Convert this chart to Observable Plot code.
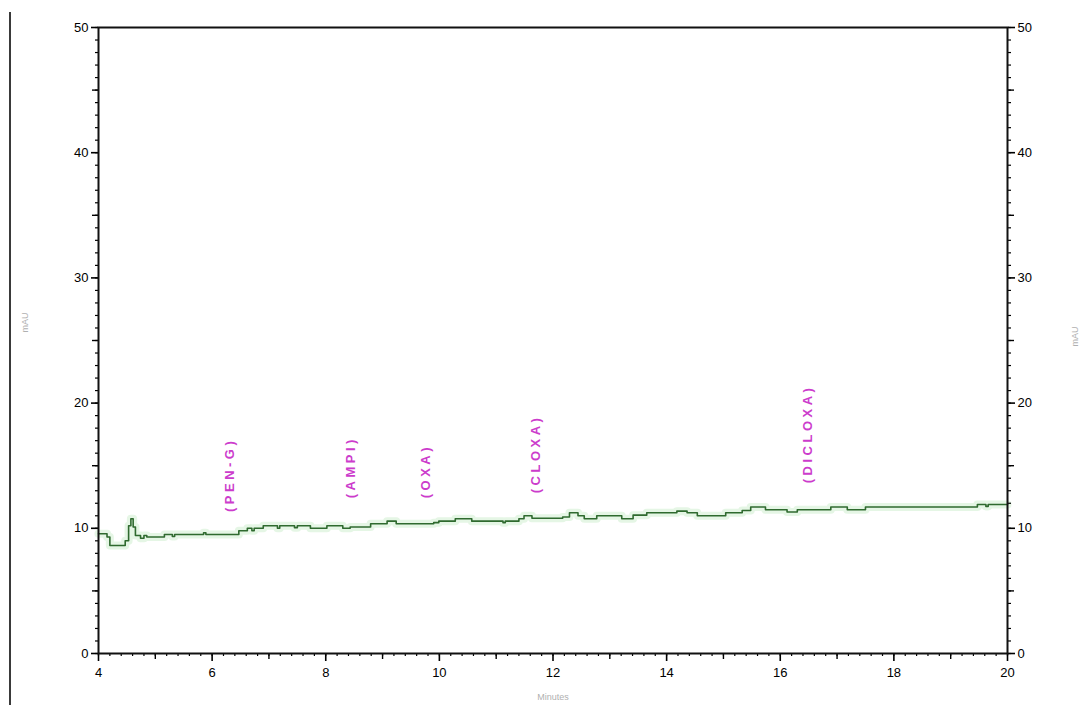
<!DOCTYPE html>
<html>
<head>
<meta charset="utf-8">
<script src="https://cdn.jsdelivr.net/npm/d3@7"></script>
<script src="https://cdn.jsdelivr.net/npm/@observablehq/plot@0.6"></script>
<style>
  html, body { margin: 0; padding: 0; background: #fff; }
  #wrap { position: relative; width: 1083px; height: 705px; overflow: hidden; }
  #edge { position: absolute; left: 9px; top: 12px; width: 2px; height: 693px; background: #3a3a3a; }
</style>
</head>
<body>
<div id="wrap"><div id="edge"></div></div>
<script>
// Chromatogram trace (minutes, mAU), step-wise detector signal
const minutes = [4.00, 4.15, 4.20, 4.47, 4.53, 4.57, 4.61, 4.65, 4.74, 4.80, 4.85, 5.16, 5.30, 5.34, 5.85, 5.89,
  6.47, 6.62, 6.70, 6.74, 6.90, 7.15, 7.19, 7.45, 7.50, 7.73, 8.02, 8.30, 8.43, 8.79, 9.08, 9.24, 9.90, 9.99,
  10.28, 10.57, 11.12, 11.16, 11.40, 11.49, 11.63, 12.17, 12.29, 12.44, 12.55, 12.77, 13.21, 13.41, 13.65,
  14.18, 14.36, 14.54, 15.04, 15.33, 15.48, 15.74, 16.12, 16.30, 16.89, 17.18, 17.50, 19.47, 19.62, 19.66, 20.00];
const mAU = [9.56, 9.3, 8.63, 9.0, 10.2, 10.76, 10.1, 9.42, 9.2, 9.42, 9.3, 9.5, 9.35, 9.5, 9.65, 9.5,
  9.8, 10.0, 9.8, 10.0, 10.2, 10.0, 10.2, 10.05, 10.2, 10.0, 10.2, 10.0, 10.1, 10.36, 10.57, 10.36, 10.45, 10.57,
  10.76, 10.57, 10.45, 10.57, 10.76, 11.0, 10.8, 10.9, 11.24, 11.0, 10.76, 11.0, 10.76, 11.05, 11.24,
  11.37, 11.24, 11.0, 11.24, 11.42, 11.7, 11.48, 11.3, 11.48, 11.7, 11.48, 11.7, 11.9, 11.75, 11.9, 11.9];

// Peak annotations
const peakNames = ["(PEN-G)", "(AMPI)", "(OXA)", "(CLOXA)", "(DICLOXA)"];
const peakTimes = [6.32, 8.44, 9.76, 11.69, 16.48];
const peakLabelBase = [11.3, 12.4, 12.4, 12.8, 13.6];

// Axis ticks and titles
const xMajor = [4, 6, 8, 10, 12, 14, 16, 18, 20];
const xMid = [5, 7, 9, 11, 13, 15, 17, 19];
const xMinor = d3.range(0, 81).map(i => 4 + i * 0.2);
const yMajor = [0, 10, 20, 30, 40, 50];
const yMid = [5, 15, 25, 35, 45];
const yMinor = d3.range(0, 51);
const xTitle = "Minutes";
const yTitle = "mAU";

const trace = minutes.map((t, i) => ({t, v: mAU[i]}));
const peaks = peakNames.map((name, i) => ({name, t: peakTimes[i], v: peakLabelBase[i]}));

const labelColor = "#cc3ccc";
const none = () => "";

const chart = Plot.plot({
  width: 1083,
  height: 705,
  marginLeft: 98,
  marginRight: 76,
  marginTop: 27,
  marginBottom: 52,
  style: {fontFamily: "'Liberation Sans', Arial, sans-serif", fontSize: "13px", background: "transparent", color: "#000"},
  x: {domain: [4, 20], axis: null},
  y: {domain: [0, 50], axis: null},
  marks: [
    Plot.line(trace, {x: "t", y: "v", curve: "step-after", stroke: "#a8e0a8", strokeWidth: 8, strokeOpacity: 0.3}),
    Plot.line(trace, {x: "t", y: "v", curve: "step-after", stroke: "#2f6a2f", strokeWidth: 1.6}),
    Plot.text(peaks, {x: "t", y: "v", text: "name", rotate: -90, textAnchor: "start", fill: labelColor,
      fontWeight: "bold", fontSize: 13, fontFamily: "'Liberation Sans', Arial, sans-serif"}),
    // bottom axis
    Plot.axisX({ticks: xMinor, tickSize: 3, tickFormat: none, label: null, strokeWidth: 1.2}),
    Plot.axisX({ticks: xMid, tickSize: 6, tickFormat: none, label: null, strokeWidth: 1.4}),
    Plot.axisX({ticks: xMajor, tickSize: 8, tickPadding: 6, label: null, strokeWidth: 1.6}),
    // left axis
    Plot.axisY({anchor: "left", ticks: yMinor, tickSize: 3, tickFormat: none, label: null, strokeWidth: 1.2}),
    Plot.axisY({anchor: "left", ticks: yMid, tickSize: 6, tickFormat: none, label: null, strokeWidth: 1.4}),
    Plot.axisY({anchor: "left", ticks: yMajor, tickSize: 7, tickPadding: 3, label: null, strokeWidth: 1.6}),
    // right axis
    Plot.axisY({anchor: "right", ticks: yMinor, tickSize: 3, tickFormat: none, label: null, strokeWidth: 1.2}),
    Plot.axisY({anchor: "right", ticks: yMid, tickSize: 6, tickFormat: none, label: null, strokeWidth: 1.4}),
    Plot.axisY({anchor: "right", ticks: yMajor, tickSize: 7, tickPadding: 3, label: null, strokeWidth: 1.6}),
    Plot.frame({stroke: "#111", strokeWidth: 2}),
    // axis titles
    Plot.text([xTitle], {frameAnchor: "bottom", dy: 46, fill: "#b0b0b0", fontSize: 9}),
    Plot.text([yTitle], {frameAnchor: "left", dx: -73, dy: -8, rotate: -90, fill: "#b0b0b0", fontSize: 9}),
    Plot.text([yTitle], {frameAnchor: "right", dx: 68, dy: -14, rotate: -90, fill: "#b0b0b0", fontSize: 9})
  ]
});

d3.select(chart).style("position", "absolute").style("left", "0px").style("top", "0px").style("overflow", "visible");
d3.select(chart).selectAll(`g[fill="${labelColor}"] text`).style("letter-spacing", "3.5px");
document.getElementById("wrap").appendChild(chart);
</script>
</body>
</html>
